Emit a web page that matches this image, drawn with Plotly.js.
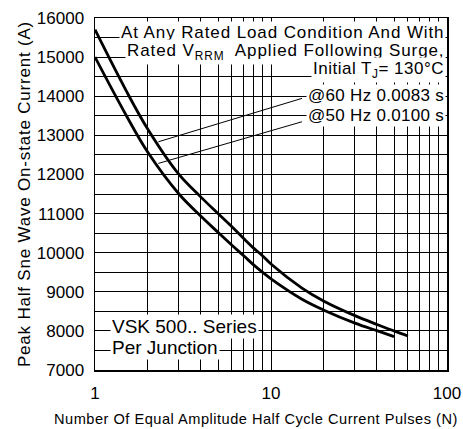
<!DOCTYPE html>
<html>
<head>
<meta charset="utf-8">
<script src="https://cdn.plot.ly/plotly-3.0.1.min.js"></script>
<style>
html,body{margin:0;padding:0;background:#fff;}
.ytitle{letter-spacing:0.8px;}
</style>
</head>
<body>
<div id="chart" style="width:463px;height:429px;"></div>
<script>
// Number of pulses (N)
const pulses60 = [1, 1.5, 2, 3, 4, 5, 6, 7, 8, 9, 10, 15, 20, 30, 40, 50, 60];
// Peak current @60 Hz 0.0083 s (A)
const current60 = [15700, 14150, 13150, 12000, 11420, 11000, 10660, 10360, 10110, 9910, 9710, 9095, 8760, 8390, 8165, 8000, 7870];
const pulses50 = [1, 1.5, 2, 3, 4, 5, 6, 7, 8, 9, 10, 15, 20, 30, 40, 50];
// Peak current @50 Hz 0.0100 s (A)
const current50 = [15000, 13520, 12560, 11500, 10930, 10520, 10190, 9920, 9680, 9490, 9330, 8810, 8530, 8200, 8005, 7855];

// leader lines from labels to curves
const leader60X = [2.29, 15];
const leader60Y = [12835, 13945];
const leader50X = [2.29, 15];
const leader50Y = [12282, 13347];

const yTickVals = [7000, 8000, 9000, 10000, 11000, 12000, 13000, 14000, 15000, 16000];
const yTickText = ['7000', '8000', '9000', '10000', '11000', '12000', '13000', '14000', '15000', '16000'];
const xTickVals = [1, 10, 100];
const xTickText = ['1', '10', '100'];

const FONT = 'Arial, "Liberation Sans", sans-serif';

const traces = [
  {x: pulses60, y: current60, type: 'scatter', mode: 'lines', name: '@60 Hz 0.0083 s',
   line: {color: '#000', width: 2.8, shape: 'spline', smoothing: 1}, hoverinfo: 'x+y'},
  {x: pulses50, y: current50, type: 'scatter', mode: 'lines', name: '@50 Hz 0.0100 s',
   line: {color: '#000', width: 2.8, shape: 'spline', smoothing: 1}, hoverinfo: 'x+y'},
  {x: leader60X, y: leader60Y, type: 'scatter', mode: 'lines', line: {color: '#000', width: 1}, hoverinfo: 'skip'},
  {x: leader50X, y: leader50Y, type: 'scatter', mode: 'lines', line: {color: '#000', width: 1}, hoverinfo: 'skip'}
];

function ann(text, x, y, xanchor, size, xshift, spacing) {
  const t = spacing ? '<span style="letter-spacing:' + spacing + 'px">' + text + '</span>' : text;
  return {text: t, xref: 'paper', yref: 'paper', x: x, y: y, xanchor: xanchor, yanchor: 'middle',
    showarrow: false, bgcolor: '#fff', borderpad: 1, xshift: xshift || 0,
    font: {family: FONT, size: size, color: '#000'}};
}

const layout = {
  width: 463, height: 429,
  margin: {l: 95, r: 16, t: 18, b: 59, pad: 0},
  paper_bgcolor: '#fff', plot_bgcolor: '#fff',
  showlegend: false,
  font: {family: FONT, color: '#000'},
  xaxis: {
    type: 'log', range: [0, 2],
    tickvals: xTickVals, ticktext: xTickText,
    tickfont: {family: FONT, size: 17, color: '#000'},
    showgrid: true, gridcolor: '#000', gridwidth: 1,
    minor: {dtick: 'D1', showgrid: true, gridcolor: '#000', gridwidth: 1},
    showline: true, linecolor: '#000', linewidth: 1.5, mirror: true,
    ticks: '', ticklabelstandoff: 7, zeroline: false
  },
  yaxis: {
    range: [7000, 16000],
    tickvals: yTickVals, ticktext: yTickText,
    tickfont: {family: FONT, size: 17, color: '#000'},
    showgrid: true, gridcolor: '#000', gridwidth: 1,
    minor: {dtick: 500, showgrid: true, gridcolor: '#000', gridwidth: 1},
    showline: true, linecolor: '#000', linewidth: 1.5, mirror: true,
    ticks: '', ticklabelstandoff: 6, zeroline: false,
    title: {text: 'Peak Half Sne Wave On-state Current (A)', font: {family: FONT, size: 17, color: '#000'}, standoff: 2}
  },
  annotations: [
    ann('At Any Rated Load Condition And With', 1, 0.959, 'right', 17, -1.5, 0.9),
    ann('Rated V<sub>RRM</sub>  Applied Following Surge,', 1, 0.903, 'right', 17, -1.5, 0.9),
    ann('Initial T<sub>J</sub>= 130°C', 1, 0.851, 'right', 17, -1.5, 0.5),
    ann('@60 Hz 0.0083 s', 1, 0.781, 'right', 17, -1.5, 0.3),
    ann('@50 Hz 0.0100 s', 1, 0.724, 'right', 17, -1.5, 0.3),
    ann('VSK 500.. Series', 0.0426, 0.125, 'left', 19, 0, 0),
    ann('Per Junction', 0.0426, 0.065, 'left', 19, 0, 0),
    {text: '<span style="letter-spacing:0.5px">Number Of Equal Amplitude Half Cycle Current Pulses (N)</span>',
     xref: 'paper', yref: 'paper',
     x: 0.456, y: -0.139, xanchor: 'center', yanchor: 'middle', showarrow: false,
     font: {family: FONT, size: 14.6, color: '#000'}}
  ]
};

Plotly.newPlot('chart', traces, layout, {staticPlot: true, displayModeBar: false});
</script>
</body>
</html>
